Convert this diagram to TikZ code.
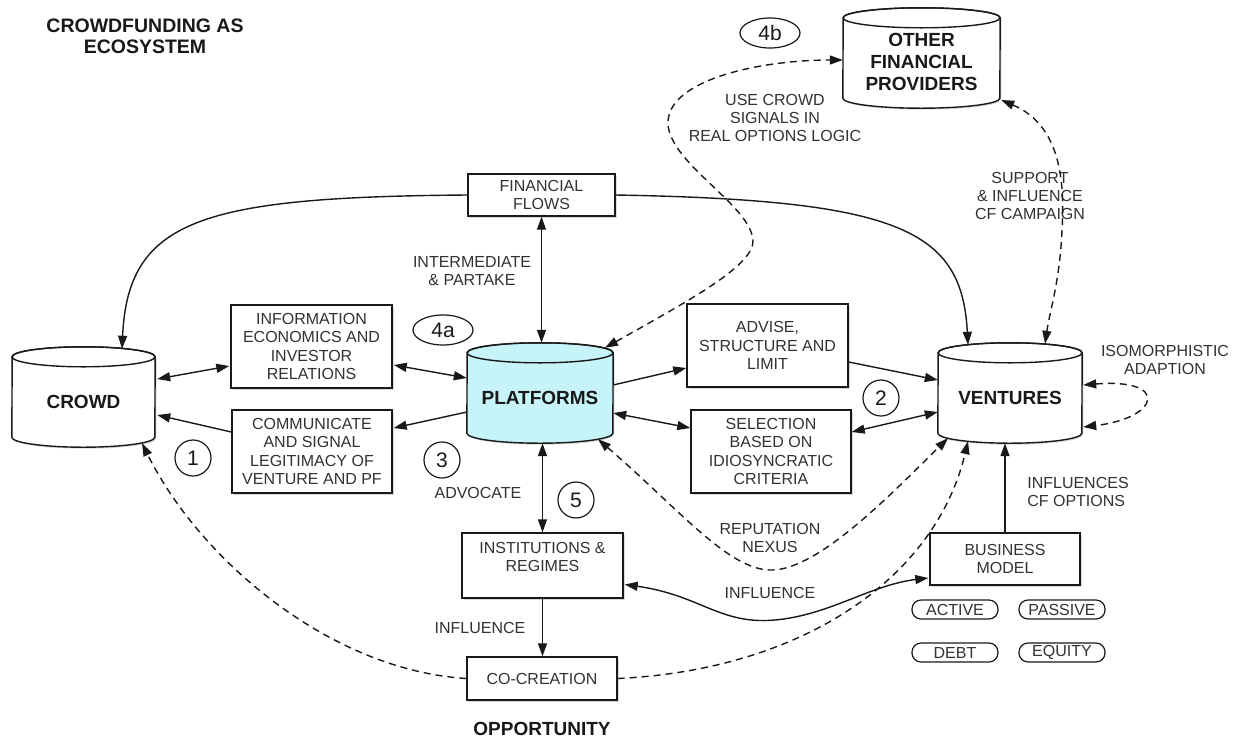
\documentclass[tikz,border=0pt]{standalone}
\usepackage{fontspec}
\setmainfont{Liberation Sans}
\usetikzlibrary{arrows.meta,calc,shapes.geometric,shadows}

\definecolor{txt}{RGB}{50,50,50}
\definecolor{dark}{RGB}{25,25,25}
\definecolor{platcyan}{RGB}{198,244,249}

\newcommand\fsmall{\fontsize{16}{18.3}\selectfont}
\newcommand\fbig{\fontsize{19}{22}\selectfont\bfseries}
\newcommand\ftitle{\fontsize{19.5}{21}\selectfont\bfseries}
\newcommand\fnum{\fontsize{21}{24}\selectfont}

\tikzset{
 shad/.style={drop shadow={shadow xshift=1.5pt,shadow yshift=-1.5pt,opacity=0.3}},
 box/.style={draw=dark, line width=1.4pt, fill=white, inner sep=0pt, align=center, text=txt, font=\fsmall, shad},
 lbl/.style={align=center, text=txt, font=\fsmall, inner sep=0pt},
 big/.style={align=center, text=dark, font=\fbig, inner sep=0pt},
 num/.style={draw=dark, line width=1.2pt, circle, minimum size=36pt, inner sep=0pt, font=\fnum, text=dark},
 numell/.style={draw=dark, line width=1.2pt, ellipse, minimum width=60pt, minimum height=30pt, inner sep=0pt, font=\fnum, text=dark},
 tag/.style={draw=dark, line width=1.2pt, rounded corners=9pt, minimum width=86pt, minimum height=19pt, inner sep=0pt, font=\fsmall, text=txt},
 cylnode/.style={inner sep=0pt},
 arr/.style={line width=1.4pt, draw=dark, -{Triangle[length=13pt,width=9pt]}},
 darr/.style={line width=1.4pt, draw=dark, {Triangle[length=13pt,width=9pt]}-{Triangle[length=13pt,width=9pt]}},
 dsh/.style={dash pattern=on 7pt off 5pt},
}

\newcommand\cyl[3]{%
 \path[draw=dark, line width=1.4pt, fill=#3, shad] ($(#1.south west)+(0pt,10pt)$) arc[start angle=180,end angle=360,x radius=#2pt,y radius=10pt] -- ($(#1.north east)+(0pt,-10pt)$) arc[start angle=0,end angle=180,x radius=#2pt,y radius=10pt] -- cycle;
 \draw[dark, line width=1.4pt] ($(#1.north)+(0pt,-10pt)$) ellipse[x radius=#2pt, y radius=10pt];
}

\begin{document}
\begin{tikzpicture}[x=1pt,y=-1pt]
\fill[white] (0,0) rectangle (1243,740);
\useasboundingbox (0,0) rectangle (1243,740);

% title
\node[big, font=\ftitle] (title) at (145,36) {CROWDFUNDING AS\\ECOSYSTEM};

% boxes
\node[box, minimum width=147pt, minimum height=42pt] (ff) at (541.5,195) {FINANCIAL\\FLOWS};
\node[box, minimum width=161pt, minimum height=83pt] (info) at (311.5,346.5) {INFORMATION\\ECONOMICS AND\\INVESTOR\\RELATIONS};
\node[box, minimum width=160pt, minimum height=83pt] (comm) at (312,451.5) {COMMUNICATE\\AND SIGNAL\\LEGITIMACY OF\\VENTURE AND PF};
\node[box, minimum width=161pt, minimum height=83pt] (adv) at (767.5,345.5) {ADVISE,\\STRUCTURE AND\\LIMIT};
\node[box, minimum width=160pt, minimum height=83pt] (sel) at (771,451.5) {SELECTION\\BASED ON\\IDIOSYNCRATIC\\CRITERIA};
\node[box, minimum width=161pt, minimum height=65pt] (inst) at (542.5,565.5) {INSTITUTIONS \&\\REGIMES\\[-7pt]\strut};
\node[box, minimum width=150pt, minimum height=52pt] (bm) at (1005,559) {BUSINESS\\MODEL};
\node[box, minimum width=150pt, minimum height=43pt] (cocr) at (542,678.5) {CO-CREATION};

% cylinders
\node[cylnode, minimum width=143pt, minimum height=100pt] (crowd) at (83.5,397) {};
\cyl{crowd}{71.5}{white}
\node[big] (crowdt) at ($(crowd.center)+(0pt,-5pt)$) {CROWD};

\node[cylnode, minimum width=146pt, minimum height=100pt] (plat) at (540,393) {};
\cyl{plat}{73}{platcyan}
\node[big] (platt) at ($(plat.center)+(0pt,-5pt)$) {PLATFORMS};

\node[cylnode, minimum width=144pt, minimum height=100pt] (ven) at (1010,393) {};
\cyl{ven}{72}{white}
\node[big] (vent) at ($(ven.center)+(0pt,-5pt)$) {VENTURES};

\node[cylnode, minimum width=157pt, minimum height=100pt] (ofp) at (921.5,58) {};
\cyl{ofp}{78.5}{white}
\node[big] (ofpt) at ($(ofp.center)+(0pt,-4pt)$) {OTHER\\FINANCIAL\\PROVIDERS};

% numbers
\node[num] (n1) at (193,458) {1};
\node[num] (n2) at (881,398) {2};
\node[num] (n3) at (442,460) {3};
\node[num] (n5) at (576,500) {5};
\node[numell] (n4a) at (443,330) {4a};
\node[numell] (n4b) at (770,33) {4b};

% labels
\node[lbl] (lusec) at (775,118) {USE CROWD\\SIGNALS IN\\REAL OPTIONS LOGIC};
\node[lbl] (lsup) at (1030,196) {SUPPORT\\\& INFLUENCE\\CF CAMPAIGN};
\node[lbl] (linter) at (472,271) {INTERMEDIATE\\\& PARTAKE};
\node[lbl] (liso) at (1165,360) {ISOMORPHISTIC\\ADAPTION};
\node[lbl] (ladv) at (478,493) {ADVOCATE};
\node[lbl, align=left] (lcfo) at (1078,492) {INFLUENCES\\CF OPTIONS};
\node[lbl] (lrep) at (770,538) {REPUTATION\\NEXUS};
\node[lbl] (linf1) at (770,593) {INFLUENCE};
\node[lbl] (linf2) at (480,628) {INFLUENCE};
\node[big] (lopp) at (542,729) {OPPORTUNITY};

% tags
\node[tag] (tact) at (955,609.5) {ACTIVE};
\node[tag] (tpas) at (1062,609.5) {PASSIVE};
\node[tag] (tdeb) at (955,652.5) {DEBT};
\node[tag] (tequ) at (1062,652.5) {EQUITY};

% straight connectors
\draw[darr] ($(crowd.east)+(2pt,18pt)$) -- ($(info.west)+(-1pt,-19.5pt)$);
\draw[arr] ($(comm.west)+(0pt,19.5pt)$) -- ($(crowd.east)+(2pt,-18pt)$);
\draw[darr] ($(info.east)+(1pt,-18.5pt)$) -- ($(plat.west)+(0pt,15pt)$);
\draw[arr] ($(plat.west)+(0pt,-19pt)$) -- ($(comm.east)+(1pt,23.5pt)$);
\draw[arr] ($(plat.east)+(0pt,8pt)$) -- ($(adv.west)+(0pt,-22.5pt)$);
\draw[darr] ($(plat.east)+(0pt,-20pt)$) -- ($(sel.west)+(0pt,23.5pt)$);
\draw[arr] ($(adv.east)+(0pt,-16.5pt)$) -- ($(ven.west)+(0pt,13pt)$);
\draw[darr] ($(sel.east)+(0pt,19.5pt)$) -- ($(ven.west)+(0pt,-19pt)$);
\draw[darr] (ff.south) -- (ff.south |- plat.north);
\draw[darr] (inst.north |- plat.south) -- (inst.north);
\draw[arr] (inst.south) -- (inst.south |- cocr.north);
\draw[arr] (bm.north) -- (bm.north |- ven.south);

% curved solid connectors
\draw[arr] (ff.west) .. controls (200,197) and (128,220) .. ($(crowd.north)+(38.5pt,-2pt)$);
\draw[arr] (ff.east) .. controls (900,200) and (962,230) .. ($(ven.north)+(-42pt,-2pt)$);
\draw[darr] ($(inst.east)+(1pt,-19pt)$) .. controls (700,595) and (720,625) .. (775,620) .. controls (830,615) and (870,585) .. ($(bm.west)+(-1pt,-19pt)$);

% dashed connectors
\draw[darr, dsh] ($(plat.north)+(65pt,-5pt)$) .. controls (690,300) and (755,265) .. (753,240) .. controls (750,205) and (672,165) .. (668,125) .. controls (665,80) and (760,60) .. ($(ofp.west)+(0pt,-2pt)$);
\draw[darr, dsh] ($(ofp.east)+(1pt,-42pt)$) .. controls (1060,125) and (1065,180) .. (1062,230) .. controls (1060,280) and (1050,310) .. ($(ven.north)+(35pt,-1pt)$);
\draw[darr, dsh] ($(ven.east)+(1pt,8pt)$) .. controls (1170,378) and (1160,418) .. ($(ven.east)+(1pt,-34pt)$);
\draw[darr, dsh] ($(plat.south)+(58pt,4pt)$) .. controls (680,510) and (730,572) .. (773,570) .. controls (820,568) and (890,495) .. ($(ven.south)+(-62pt,5pt)$);
\draw[arr, dsh] (cocr.east) .. controls (800,670) and (935,580) .. ($(ven.south)+(-42pt,2pt)$);
\draw[arr, dsh] (cocr.west) .. controls (330,670) and (200,560) .. ($(crowd.south)+(58.5pt,4pt)$);
\end{tikzpicture}
\end{document}
